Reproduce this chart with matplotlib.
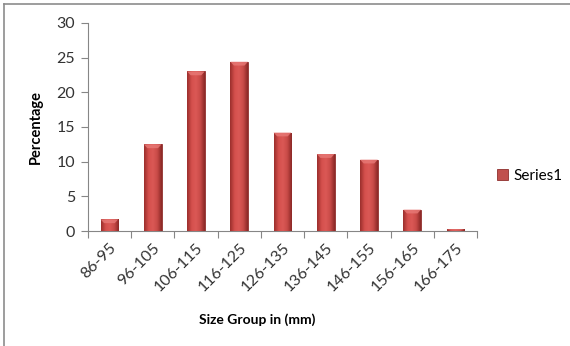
import numpy as np
import matplotlib.pyplot as plt
from matplotlib.colors import LinearSegmentedColormap
from matplotlib.lines import Line2D

# Size groups (mm) and percentage of specimens in each group
grupos = ['86-95', '96-105', '106-115', '116-125', '126-135',
          '136-145', '146-155', '156-165', '166-175']
porcentaje = [1.7, 12.5, 23.0, 24.4, 14.2, 11.1, 10.3, 3.1, 0.25]

plt.rcParams['font.family'] = ['Lato', 'DejaVu Sans']

fig = plt.figure(figsize=(5.7, 3.46), dpi=100)
ax = fig.add_axes([0.154, 0.332, 0.683, 0.602])

x = np.arange(len(grupos))
barras = ax.bar(x, porcentaje, width=0.41, color='#C0504D', label='Series1',
                edgecolor='#8E2F2D', linewidth=0.6, zorder=2)

# Shaded fill on each bar: darker sides, lighter middle
cmap = LinearSegmentedColormap.from_list(
    'bisel', ['#9A2E2C', '#D44F4C', '#DB5956', '#C84A47', '#8A2826'])
grad = np.linspace(0, 1, 64).reshape(1, -1)
for b in barras:
    x0, h, w = b.get_x(), b.get_height(), b.get_width()
    im = ax.imshow(grad, extent=[x0, x0 + w, 0, h], aspect='auto',
                   cmap=cmap, zorder=3, interpolation='bicubic')
    im.set_clip_path(b)
    # lighter cap on the top of the bar
    cap = min(0.55, h * 0.5)
    ax.fill([x0, x0 + w, x0 + w * 0.8, x0 + w * 0.2],
            [h, h, h - cap, h - cap], color='#E87A77', alpha=0.8,
            zorder=4, linewidth=0)

ax.set_xlim(-0.5, len(grupos) - 0.5)
ax.set_ylim(0, 30)
ax.set_yticks([0, 5, 10, 15, 20, 25, 30])

# category ticks sit between the bars
ax.set_xticks(np.arange(len(grupos) + 1) - 0.5, minor=False)
ax.set_xticklabels([])
ax.set_xticks(x, minor=True)
ax.set_xticklabels(grupos, minor=True, rotation=45, ha='right',
                   rotation_mode='anchor', fontsize=11.5, color='#333333')
ax.tick_params(axis='x', which='minor', length=0, pad=7)
ax.tick_params(axis='x', which='major', length=5, color='#868686')
ax.tick_params(axis='y', length=5, color='#868686', labelsize=11.5,
               labelcolor='#333333', pad=4)

for lado in ['top', 'right']:
    ax.spines[lado].set_visible(False)
for lado in ['left', 'bottom']:
    ax.spines[lado].set_color('#868686')

ax.set_ylabel('Percentage', fontsize=10.5, fontweight='bold', labelpad=10)
fig.text(0.452, 0.075, 'Size Group in (mm)', fontsize=10, fontweight='bold',
         ha='center', va='center')

fig.legend(handles=[barras], labels=['Series1'], loc='center left',
           bbox_to_anchor=(0.872, 0.491), frameon=False, fontsize=11,
           handlelength=0.75, handleheight=0.75, handletextpad=0.35,
           borderpad=0, borderaxespad=0)

# outer chart frame (left and top edges)
fig.add_artist(Line2D([0.007, 0.007], [0, 0.988], color='#8C8C8C', lw=1.2))
fig.add_artist(Line2D([0.007, 1.0], [0.988, 0.988], color='#8C8C8C', lw=1.2))

fig.savefig('out.png', dpi=100)
